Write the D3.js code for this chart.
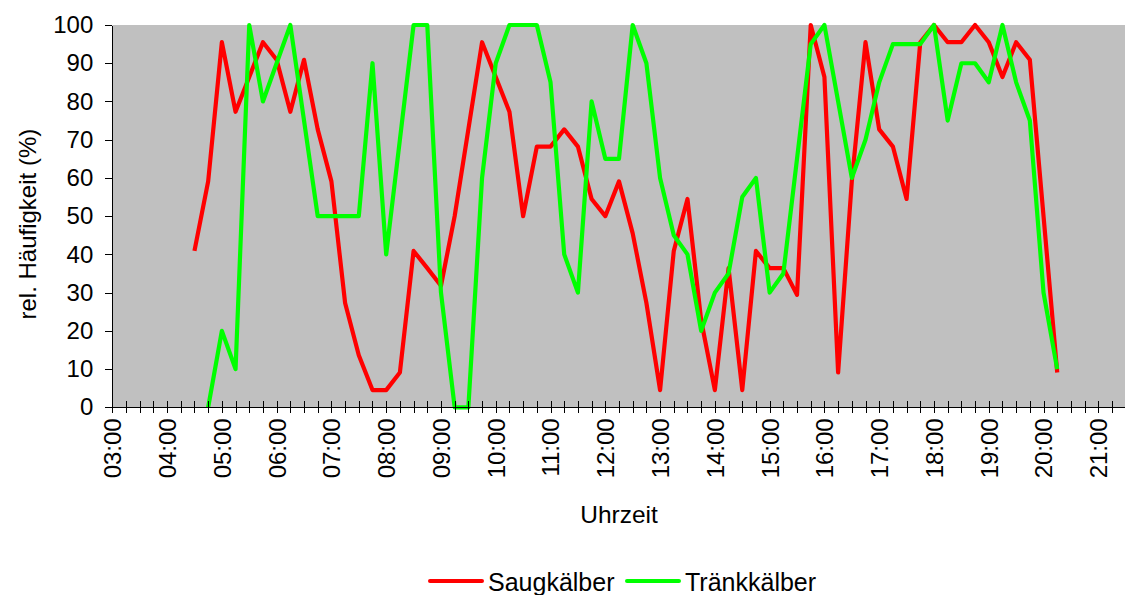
<!DOCTYPE html>
<html>
<head>
<meta charset="utf-8">
<script src="https://cdn.jsdelivr.net/npm/d3@7"></script>
<style>
  html, body { margin: 0; padding: 0; background: white; }
  svg { display: block; font-family: "Liberation Sans", Arial, sans-serif; }
</style>
</head>
<body>
<div id="chart"></div>
<script>
// 15-min time slots that carry a value
const slots = [
  "04:30", "04:45", "05:00", "05:15", "05:30", "05:45", "06:00", "06:15",
  "06:30", "06:45", "07:00", "07:15", "07:30", "07:45", "08:00", "08:15",
  "08:30", "08:45", "09:00", "09:15", "09:30", "09:45", "10:00", "10:15",
  "10:30", "10:45", "11:00", "11:15", "11:30", "11:45", "12:00", "12:15",
  "12:30", "12:45", "13:00", "13:15", "13:30", "13:45", "14:00", "14:15",
  "14:30", "14:45", "15:00", "15:15", "15:30", "15:45", "16:00", "16:15",
  "16:30", "16:45", "17:00", "17:15", "17:30", "17:45", "18:00", "18:15",
  "18:30", "18:45", "19:00", "19:15", "19:30", "19:45", "20:00", "20:15",
];

const saugkaelber = [
  40.9, 59.1, 95.5, 77.3, 86.4, 95.5, 90.9, 77.3,
  90.9, 72.7, 59.1, 27.3, 13.6, 4.5, 4.5, 9.1,
  40.9, 36.4, 31.8, 50, 72.7, 95.5, 86.4, 77.3,
  50, 68.2, 68.2, 72.7, 68.2, 54.5, 50, 59.1,
  45.5, 27.3, 4.5, 40.9, 54.5, 22.7, 4.5, 36.4,
  4.5, 40.9, 36.4, 36.4, 29.4, 100, 86.4, 9.1,
  59.1, 95.5, 72.7, 68.2, 54.5, 95.5, 100, 95.5,
  95.5, 100, 95.5, 86.4, 95.5, 90.9, 50, 9.1,
];

const traenkkaelber = [
  null, 0, 20, 10, 100, 80, 90, 100,
  75, 50, 50, 50, 50, 90, 40, 70,
  100, 100, 30, 0, 0, 60, 90, 100,
  100, 100, 85, 40, 30, 80, 65, 65,
  100, 90, 60, 45, 40, 20, 30, 35,
  55, 60, 30, 35, 65, 95, 100, 80,
  60, 70, 85, 95, 95, 95, 100, 75,
  90, 90, 85, 100, 85, 75, 30, 10,
];

const hourLabels = [
  "03:00", "04:00", "05:00", "06:00", "07:00", "08:00", "09:00", "10:00",
  "11:00", "12:00", "13:00", "14:00", "15:00", "16:00", "17:00", "18:00",
  "19:00", "20:00", "21:00",
];
const yTicks = [0, 10, 20, 30, 40, 50, 60, 70, 80, 90, 100];

const series = [
  { name: "Saugkälber", values: saugkaelber, color: "#ff0000" },
  { name: "Tränkkälber", values: traenkkaelber, color: "#00ff00" },
];

const width = 1125;
const height = 595;
const plot = { left: 112.3, top: 25, bottom: 407.3, right: 1125.7 };

const toMin = (s) => {
  const [h, m] = s.split(":").map(Number);
  return h * 60 + m;
};

const svg = d3
  .select("#chart")
  .append("svg")
  .attr("width", width)
  .attr("height", height)
  .attr("viewBox", [0, 0, width, height]);

const xScale = d3
  .scaleLinear()
  .domain([toMin("03:00"), toMin("21:30")])
  .range([plot.left, plot.right]);
const yScale = d3.scaleLinear().domain([0, 100]).range([plot.bottom, plot.top]);

// plot background
svg
  .append("rect")
  .attr("x", plot.left)
  .attr("y", plot.top)
  .attr("width", plot.right - plot.left)
  .attr("height", plot.bottom - plot.top)
  .attr("fill", "#c0c0c0");

// series lines
const line = d3
  .line()
  .defined((d) => d.v !== null)
  .x((d) => xScale(toMin(d.t)))
  .y((d) => yScale(d.v));

svg
  .append("g")
  .selectAll("path")
  .data(series)
  .enter()
  .append("path")
  .attr("fill", "none")
  .attr("stroke", (d) => d.color)
  .attr("stroke-width", 4.2)
  .attr("stroke-linejoin", "round")
  .attr("d", (d) => line(slots.map((t, i) => ({ t, v: d.values[i] }))));

// x axis: a tick every 15 minutes, label at full hours
const hourSet = new Set(hourLabels.map(toMin));
const gx = svg
  .append("g")
  .attr("transform", `translate(0, ${plot.bottom})`)
  .call(
    d3
      .axisBottom(xScale)
      .tickValues(d3.range(toMin("03:00"), toMin("21:30") + 1, 15))
      .tickSizeOuter(0)
      .tickFormat((m) =>
        hourSet.has(m) ? hourLabels.find((h) => toMin(h) === m) : ""
      )
  );
gx.select(".domain").attr("stroke", "#000").attr("shape-rendering", "crispEdges");
gx.selectAll(".tick line")
  .attr("y1", -6)
  .attr("y2", 6)
  .attr("stroke", "#000")
  .attr("shape-rendering", "crispEdges");
gx.selectAll(".tick text")
  .attr("transform", "rotate(-90)")
  .attr("x", -11)
  .attr("y", 0)
  .attr("dy", "0.35em")
  .attr("text-anchor", "end")
  .attr("fill", "#000")
  .style("font-size", "24px");

// y axis
const gy = svg
  .append("g")
  .attr("transform", `translate(${plot.left}, 0)`)
  .call(
    d3
      .axisLeft(yScale)
      .tickValues(yTicks)
      .tickSize(7)
      .tickSizeOuter(0)
      .tickPadding(12)
  );
gy.select(".domain").attr("stroke", "#000").attr("shape-rendering", "crispEdges");
gy.selectAll(".tick line").attr("stroke", "#000").attr("shape-rendering", "crispEdges");
gy.selectAll(".tick text").attr("fill", "#000").style("font-size", "24px");

// axis titles
svg
  .append("text")
  .attr("transform", `translate(36, ${(plot.top + plot.bottom) / 2 + 8}) rotate(-90)`)
  .attr("text-anchor", "middle")
  .style("font-size", "24px")
  .text("rel. Häufigkeit (%)");
svg
  .append("text")
  .attr("x", 619)
  .attr("y", 523)
  .attr("text-anchor", "middle")
  .style("font-size", "24.5px")
  .text("Uhrzeit");

// legend
const legendX = [430, 627];
const legend = svg
  .append("g")
  .selectAll("g")
  .data(series)
  .enter()
  .append("g")
  .attr("transform", (d, i) => `translate(${legendX[i]}, 581)`);
legend
  .append("line")
  .attr("x1", 0)
  .attr("x2", 52)
  .attr("stroke", (d) => d.color)
  .attr("stroke-width", 4)
  .attr("stroke-linecap", "round");
legend
  .append("text")
  .attr("x", 58)
  .attr("y", 10)
  .style("font-size", "25px")
  .text((d) => d.name);
</script>
</body>
</html>
